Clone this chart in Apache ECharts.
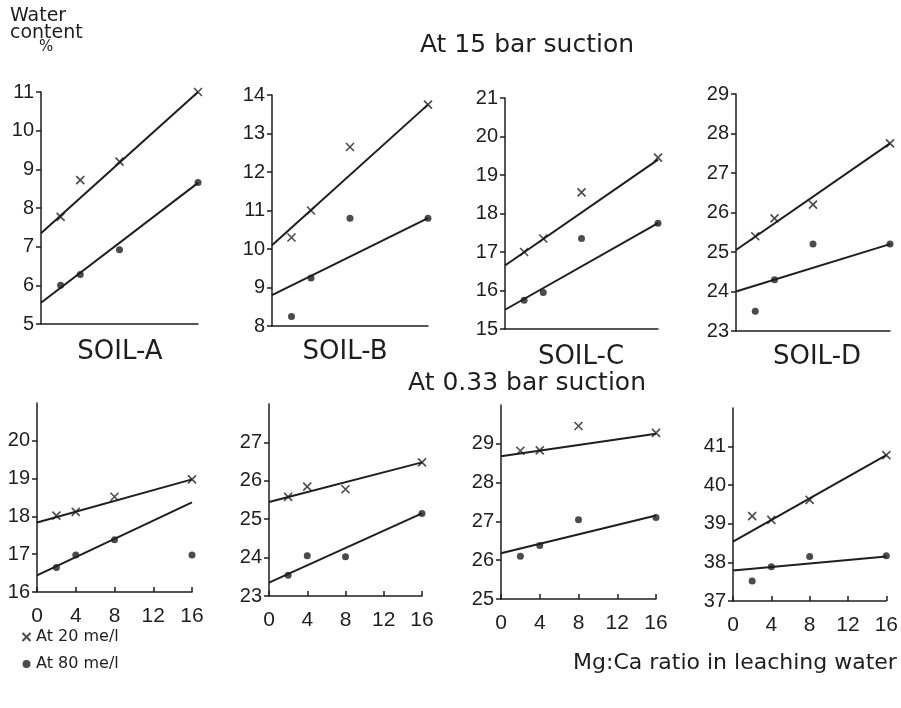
<!DOCTYPE html>
<html><head><meta charset="utf-8">
<script src="https://cdn.jsdelivr.net/npm/echarts@6/dist/echarts.min.js"></script>
<style>html,body{margin:0;padding:0;background:#fff}#c{width:901px;height:708px}</style>
</head><body><div id="c"></div>
<script>
// ---- data ----
const ratioX = [2, 4, 8, 16];          // Mg:Ca ratio of measured points
const fitX = [0, 16];                  // fitted line end points (x)
const xTicks = [0, 4, 8, 12, 16];

// At 15 bar suction
const a15_20 = [7.77, 8.72, 9.2, 11.0],   a15_80 = [6.0, 6.28, 6.92, 8.66];
const a15_fit20 = [7.35, 11.0],           a15_fit80 = [5.55, 8.65];
const b15_20 = [10.3, 11.0, 12.65, 13.75], b15_80 = [8.25, 9.25, 10.8, 10.8];
const b15_fit20 = [10.1, 13.75],          b15_fit80 = [8.8, 10.8];
const c15_20 = [17.0, 17.35, 18.55, 19.45], c15_80 = [15.75, 15.95, 17.35, 17.75];
const c15_fit20 = [16.65, 19.4],          c15_fit80 = [15.5, 17.75];
const d15_20 = [25.4, 25.85, 26.2, 27.75], d15_80 = [23.5, 24.3, 25.2, 25.2];
const d15_fit20 = [25.05, 27.75],         d15_fit80 = [24.0, 25.2];

// At 0.33 bar suction
const a033_20 = [18.02, 18.12, 18.52, 18.98], a033_80 = [16.65, 16.98, 17.38, 16.98];
const a033_fit20 = [17.84, 18.98],        a033_fit80 = [16.44, 18.37];
const b033_20 = [25.58, 25.85, 25.78, 26.48], b033_80 = [23.54, 24.05, 24.02, 25.15];
const b033_fit20 = [25.45, 26.48],        b033_fit80 = [23.35, 25.15];
const c033_20 = [28.82, 28.83, 29.46, 29.28], c033_80 = [26.1, 26.38, 27.04, 27.1];
const c033_fit20 = [28.68, 29.26],        c033_fit80 = [26.18, 27.15];
const d033_20 = [39.2, 39.1, 39.62, 40.78], d033_80 = [37.52, 37.89, 38.15, 38.17];
const d033_fit20 = [38.54, 40.78],        d033_fit80 = [37.79, 38.15];

// y tick labels
const yTicksA15 = [5, 6, 7, 8, 9, 10, 11];
const yTicksB15 = [8, 9, 10, 11, 12, 13, 14];
const yTicksC15 = [15, 16, 17, 18, 19, 20, 21];
const yTicksD15 = [23, 24, 25, 26, 27, 28, 29];
const yTicksA033 = [16, 17, 18, 19, 20];
const yTicksB033 = [23, 24, 25, 26, 27];
const yTicksC033 = [25, 26, 27, 28, 29];
const yTicksD033 = [37, 38, 39, 40, 41];
const yMax033 = [21, 28, 30, 42];

const soilNames = ['SOIL-A', 'SOIL-B', 'SOIL-C', 'SOIL-D'];
const name20 = 'At 20 me/l', name80 = 'At 80 me/l';

// ---- build ----
const INK = '#1e1e1e';
const FONT = 'Liberation Sans';
const crossPath = 'path://M0,0L10,10M10,0L0,10';

const panels = [
  {g:{left:41, top:92, width:157, height:232}, ticks:yTicksA15, min:5, max:11, p20:a15_20, p80:a15_80, f20:a15_fit20, f80:a15_fit80, bottom:false},
  {g:{left:272, top:95, width:156, height:231}, ticks:yTicksB15, min:8, max:14, p20:b15_20, p80:b15_80, f20:b15_fit20, f80:b15_fit80, bottom:false},
  {g:{left:505, top:98, width:153, height:231}, ticks:yTicksC15, min:15, max:21, p20:c15_20, p80:c15_80, f20:c15_fit20, f80:c15_fit80, bottom:false},
  {g:{left:736, top:94, width:154, height:237}, ticks:yTicksD15, min:23, max:29, p20:d15_20, p80:d15_80, f20:d15_fit20, f80:d15_fit80, bottom:false},
  {g:{left:37, top:403, width:155, height:189}, ticks:yTicksA033, min:16, max:yMax033[0], p20:a033_20, p80:a033_80, f20:a033_fit20, f80:a033_fit80, bottom:true},
  {g:{left:269, top:404, width:153, height:192}, ticks:yTicksB033, min:23, max:yMax033[1], p20:b033_20, p80:b033_80, f20:b033_fit20, f80:b033_fit80, bottom:true},
  {g:{left:501, top:405, width:155, height:194}, ticks:yTicksC033, min:25, max:yMax033[2], p20:c033_20, p80:c033_80, f20:c033_fit20, f80:c033_fit80, bottom:true},
  {g:{left:733, top:408, width:155, height:193}, ticks:yTicksD033, min:37, max:yMax033[3], p20:d033_20, p80:d033_80, f20:d033_fit20, f80:d033_fit80, bottom:true}
];

const grid = [], xAxis = [], yAxis = [], series = [];
const zip = (xs, ys) => xs.map((x, i) => [x, ys[i]]);

panels.forEach((p, i) => {
  grid.push(Object.assign({containLabel:false}, p.g));
  xAxis.push({
    type:'value', gridIndex:i, min:0, max:16, interval:4,
    axisLine:{show:true, onZero:false, lineStyle:{color:INK, width:1.5}},
    axisTick:{show:p.bottom, inside:true, length:5, lineStyle:{color:INK, width:1.5}},
    axisLabel:{show:p.bottom, customValues:xTicks, color:INK, fontFamily:FONT, fontSize:21, margin:14},
    splitLine:{show:false}
  });
  yAxis.push({
    type:'value', gridIndex:i, min:p.min, max:p.max,
    axisLine:{show:true, onZero:false, lineStyle:{color:INK, width:1.5}},
    axisTick:{show:true, customValues:p.ticks, length:5, lineStyle:{color:INK, width:1.5}},
    axisLabel:{customValues:p.ticks, color:INK, fontFamily:FONT, fontSize:20, margin:7},
    splitLine:{show:false}
  });
  series.push({
    type:'line', xAxisIndex:i, yAxisIndex:i, name:'fit20', data:zip(fitX, p.f20),
    symbol:'none', lineStyle:{color:INK, width:2}, silent:true, z:2
  });
  series.push({
    type:'line', xAxisIndex:i, yAxisIndex:i, name:'fit80', data:zip(fitX, p.f80),
    symbol:'none', lineStyle:{color:INK, width:2}, silent:true, z:2
  });
  series.push({
    type:'scatter', xAxisIndex:i, yAxisIndex:i, name:name20, data:zip(ratioX, p.p20),
    symbol:crossPath, symbolSize:8, itemStyle:{color:'none', borderColor:INK, borderWidth:1.6}, z:3
  });
  series.push({
    type:'scatter', xAxisIndex:i, yAxisIndex:i, name:name80, data:zip(ratioX, p.p80),
    symbol:'circle', symbolSize:7, itemStyle:{color:INK}, z:3
  });
});

const soilX = [115, 340, 576, 812];
const title = [
  {text:'At 15 bar suction', left:522, top:40, textAlign:'center', textVerticalAlign:'middle',
   textStyle:{fontFamily:'DejaVu Sans', fontSize:25, fontWeight:'normal', color:INK}},
  {text:'At 0.33 bar suction', left:522, top:378, textAlign:'center', textVerticalAlign:'middle',
   textStyle:{fontFamily:'DejaVu Sans', fontSize:25, fontWeight:'normal', color:INK}},
  {text:'Mg:Ca ratio in leaching water', left:730, top:658, textAlign:'center', textVerticalAlign:'middle',
   textStyle:{fontFamily:'DejaVu Sans', fontSize:22, fontWeight:'normal', color:INK}}
];
soilNames.forEach((s, k) => title.push({
  text:s, left:soilX[k], top:(k < 2 ? 347 : 352), textAlign:'center', textVerticalAlign:'middle',
  textStyle:{fontFamily:'DejaVu Sans', fontSize:26, fontWeight:'normal', color:INK}
}));

const graphic = [
  {type:'text', left:10, top:7, style:{text:'Water', font:'19px "DejaVu Sans"', fill:INK}},
  {type:'text', left:10, top:24, style:{text:'content', font:'19px "DejaVu Sans"', fill:INK}},
  {type:'text', left:39, top:40, style:{text:'%', font:'15px "DejaVu Sans"', fill:INK}}
];

const chart = echarts.init(document.getElementById('c'), null, {renderer:'canvas'});
chart.setOption({
  backgroundColor:'#ffffff',
  animation:false,
  title, graphic, grid, xAxis, yAxis, series,
  legend:{
    data:[name20, name80], orient:'vertical', left:15, top:624, itemGap:11,
    itemWidth:9, itemHeight:8, selectedMode:false,
    textStyle:{fontFamily:'DejaVu Sans', fontSize:16, color:INK}
  }
});
</script></body></html>
